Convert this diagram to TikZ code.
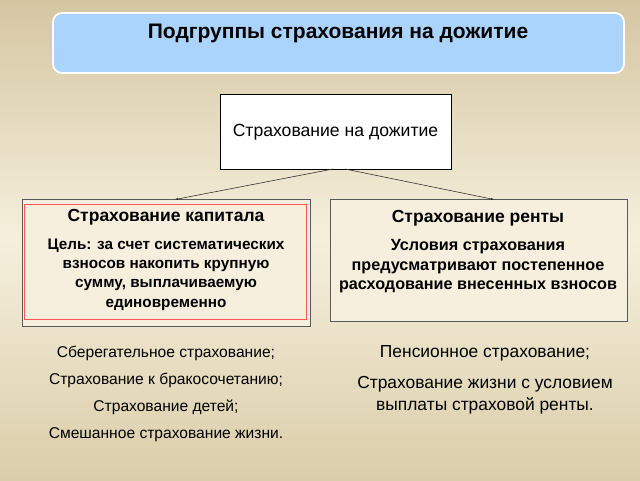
\documentclass[tikz,border=0pt]{standalone}
\usepackage{fontspec}
\setmainfont{Liberation Sans}
\usetikzlibrary{arrows.meta}
\begin{document}
\begin{tikzpicture}[x=1pt,y=-1pt,
  titlebox/.style={draw=white,line width=1.8pt,rounded corners=9pt,fill=titleblue},
  mainbox/.style={draw=black,line width=0.8pt,fill=white},
  catbox/.style={draw=gray!70!black,line width=0.6pt,fill=boxfill},
  conn/.style={draw=black!80,line width=0.6pt,-{Latex[length=3pt,width=2.5pt]}},
  head/.style={font=\fontsize{17.5}{20}\selectfont\bfseries,anchor=center},
  body/.style={font=\fontsize{15.3}{19.4}\selectfont\bfseries,align=center,anchor=north},
  lst/.style={font=\fontsize{15.6}{18}\selectfont,anchor=center},
  lstr/.style={font=\fontsize{17.4}{22}\selectfont,anchor=center,align=center}]
\definecolor{titleblue}{HTML}{AAD4FB}
\definecolor{boxfill}{HTML}{F6EFDD}
\definecolor{bgtop}{HTML}{D5C6A2}
\definecolor{bgmid}{HTML}{F5EFDC}
\definecolor{bgbot}{HTML}{DACDA9}
\useasboundingbox (0,0) rectangle (640,480);
\shade[top color=bgtop,bottom color=bgmid] (0,0) rectangle (640,240);
\shade[top color=bgmid,bottom color=bgbot] (0,240) rectangle (640,480);
% title
\draw[titlebox] (53,13) rectangle (624,73);
\node[font=\fontsize{21}{24}\selectfont\bfseries] (title) at (338,33) {Подгруппы страхования на дожитие};
% main
\node[mainbox,minimum width=231pt,minimum height=75pt] (main) at (335.5,131.5) {};
\node[font=\fontsize{17.6}{20}\selectfont] (maintxt) at (335.5,132) {Страхование на дожитие};
% left box
\node[catbox,minimum width=288pt,minimum height=127pt] (cap) at (166,262.5) {};
\draw[red!55!pink,line width=0.6pt] (24,204) rectangle (306,319);
\node[head] (caph) at (166,217.5) {Страхование капитала};
\node[body] (capb) at (166,235) {Цель: за счет систематических\\взносов накопить крупную\\сумму, выплачиваемую\\единовременно};
% right box
\node[catbox,minimum width=297pt,minimum height=122pt] (rent) at (478.5,260) {};
\node[head] (renth) at (478,218.5) {Страхование ренты};
\node[body,font=\fontsize{16.2}{19.5}\selectfont\bfseries] (rentb) at (478,236) {Условия страхования\\предусматривают постепенное\\расходование внесенных взносов};
% connectors
\coordinate (s1) at (333,169);
\coordinate (s2) at (345,169);
\coordinate (e1) at (175,199.5);
\coordinate (e2) at (494,199.5);
\draw[conn] (s1) -- (e1);
\draw[conn] (s2) -- (e2);
% lists
\node[lst] (l1) at (166,353) {Сберегательное страхование;};
\node[lst] (l2) at (166,380) {Страхование к бракосочетанию;};
\node[lst] (l3) at (166,407) {Страхование детей;};
\node[lst] (l4) at (166,435) {Смешанное страхование жизни.};
\node[lstr] (r1) at (485,353.5) {Пенсионное страхование;};
\node[lstr] (r2) at (485,395.5) {Страхование жизни с условием\\выплаты страховой ренты.};
\end{tikzpicture}
\end{document}
